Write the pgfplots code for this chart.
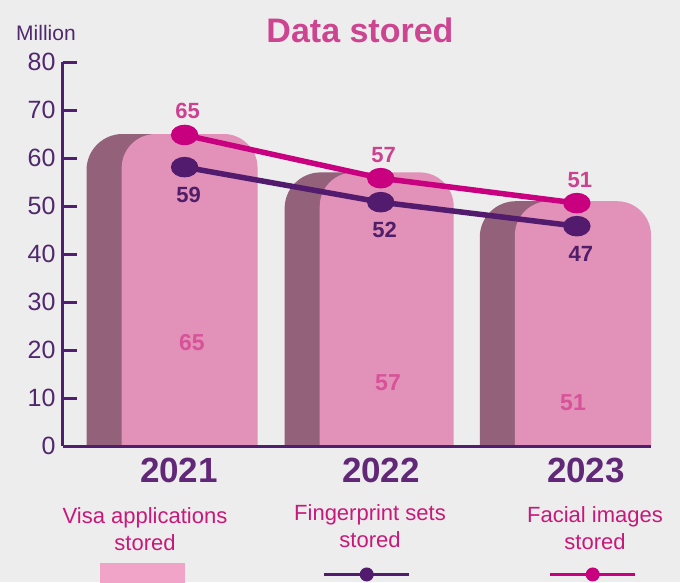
\documentclass[border=0pt]{standalone}
\usepackage{fontspec}
\setmainfont{Liberation Sans}
\usepackage{pgfplots}
\pgfplotsset{compat=1.18}

\definecolor{bgcol}{RGB}{237,237,237}
\definecolor{frontpink}{RGB}{226,145,184}
\definecolor{backmauve}{RGB}{148,97,122}
\definecolor{legpink}{RGB}{242,163,200}
\definecolor{fingercol}{RGB}{82,27,110}
\definecolor{facecol}{RGB}{200,0,128}
\definecolor{titlecol}{RGB}{205,68,145}
\definecolor{axiscol}{RGB}{80,30,110}
\definecolor{tickcol}{RGB}{80,40,110}
\definecolor{yearcol}{RGB}{98,40,120}
\definecolor{legtext}{RGB}{200,25,122}
\definecolor{facelabel}{RGB}{205,65,145}
\definecolor{fingerlabel}{RGB}{80,30,105}
\definecolor{innerlabel}{RGB}{215,82,152}

\begin{document}
\begin{tikzpicture}
\useasboundingbox (-63pt,-136pt) rectangle (617pt,446pt);
\fill[bgcol] (-63pt,-136pt) rectangle (617pt,446pt);
\begin{axis}[
  at={(0pt,0pt)}, anchor=south west,
  scale only axis, width=588pt, height=384pt,
  xmin=-0.62, xmax=2.378, ymin=0, ymax=80,
  axis x line*=bottom, axis y line*=left,
  axis line style={-, line width=3pt, draw=axiscol},
  axis on top,
  xtick=\empty,
  minor xtick={0.375,1.375,2.375},
  ytick={0,10,...,80},
  tick align=inside,
  major tick length=14pt, minor tick length=6pt,
  tick style={line width=3pt, draw=axiscol},
  yticklabel style={font=\fontsize{25}{30}\selectfont, text=tickcol, xshift=-4pt},
  /pgf/number format/assume math mode=true,
  legend columns=3,
  legend style={draw=none, fill=none, inner sep=0pt, outer sep=0pt,
    at={(axis description cs:0.0629,-0.3346)}, anchor=west,
    nodes={inner sep=0pt},
    /tikz/column sep=0pt,
    /tikz/every even column/.append style={column sep=136.5pt}},
]
% back (shadow) parts of the bars
\addplot[draw=none, fill=backmauve, rounded corners=36pt, forget plot]
  coordinates {(-0.5,-10) (-0.5,65) (0.1,65) (0.1,-10)};
\addplot[draw=none, fill=backmauve, rounded corners=36pt, forget plot]
  coordinates {(0.51,-10) (0.51,57) (1.1,57) (1.1,-10)};
\addplot[draw=none, fill=backmauve, rounded corners=36pt, forget plot]
  coordinates {(1.505,-10) (1.505,51) (2.1,51) (2.1,-10)};
% front parts: visa applications stored
\addplot[draw=none, fill=frontpink, rounded corners=34pt,
  legend image code/.code={%
    \fill[legpink, sharp corners] (0pt,-11pt) rectangle (85pt,11pt);}]
  coordinates {(-0.321,-10) (-0.321,65) (0.372,65) (0.372,-10)};
\addlegendentry{\mbox{}}
\addplot[draw=none, fill=frontpink, rounded corners=34pt, forget plot]
  coordinates {(0.689,-10) (0.689,57) (1.372,57) (1.372,-10)};
\addplot[draw=none, fill=frontpink, rounded corners=34pt, forget plot]
  coordinates {(1.684,-10) (1.684,51) (2.378,51) (2.378,-10)};
% fingerprint sets stored
\addplot[draw=fingercol, line width=5.5pt, mark=*, mark size=7.5pt,
  mark options={fill=fingercol, draw=none, xscale=1.45},
  nodes near coords, point meta=explicit symbolic,
  every node near coord/.style={anchor=north, yshift=-17pt, xshift=4pt, inner sep=0pt,
    font=\bfseries\fontsize{22}{26}\selectfont, text=fingerlabel},
  legend image code/.code={%
    \path[draw=none, fill=none] (0pt,-11pt) rectangle (85pt,11pt);
    \draw[fingercol, line width=3.5pt, sharp corners] (0pt,0pt) -- (85pt,0pt);
    \fill[fingercol, draw=none] (42.5pt,0pt) circle (7pt);}]
  coordinates {(0,58.1)[59] (1,50.8)[52] (2,45.8)[47]};
\addlegendentry{\mbox{}}
% facial images stored
\addplot[draw=facecol, line width=5.5pt, mark=*, mark size=7.5pt,
  mark options={fill=facecol, draw=none, xscale=1.45},
  nodes near coords, point meta=explicit symbolic,
  every node near coord/.style={anchor=south, yshift=13pt, xshift=3pt, inner sep=0pt,
    font=\bfseries\fontsize{22}{26}\selectfont, text=facelabel},
  legend image code/.code={%
    \path[draw=none, fill=none] (0pt,-11pt) rectangle (85pt,11pt);
    \draw[facecol, line width=3.5pt, sharp corners] (0pt,0pt) -- (85pt,0pt);
    \fill[facecol, draw=none] (42.5pt,0pt) circle (7pt);}]
  coordinates {(0,64.8)[65] (1,55.8)[57] (2,50.6)[51]};
\addlegendentry{\mbox{}}
\end{axis}

% title and unit
\node[font=\bfseries\fontsize{34}{40}\selectfont, text=titlecol] at (297pt,416pt) {Data stored};
\node[font=\fontsize{21}{25}\selectfont, text=tickcol] at (-17pt,413pt) {Million};

% values inside the bars
\begin{scope}[every node/.style={font=\bfseries\fontsize{23}{27}\selectfont, text=innerlabel}]
\node at (129pt,103pt) {65};
\node at (325pt,63pt) {57};
\node at (510pt,43pt) {51};
\end{scope}

% years
\begin{scope}[every node/.style={font=\bfseries\fontsize{35}{40}\selectfont, text=yearcol}]
\node at (116pt,-24pt) {2021};
\node at (318pt,-24pt) {2022};
\node at (523pt,-24pt) {2023};
\end{scope}

% legend texts
\begin{scope}[every node/.style={font=\fontsize{22}{27}\selectfont, text=legtext, align=center}]
\node at (82pt,-83.5pt) {Visa applications\\stored};
\node at (307pt,-80.5pt) {Fingerprint sets\\stored};
\node at (532pt,-82.5pt) {Facial images\\stored};
\end{scope}
\end{tikzpicture}
\end{document}
